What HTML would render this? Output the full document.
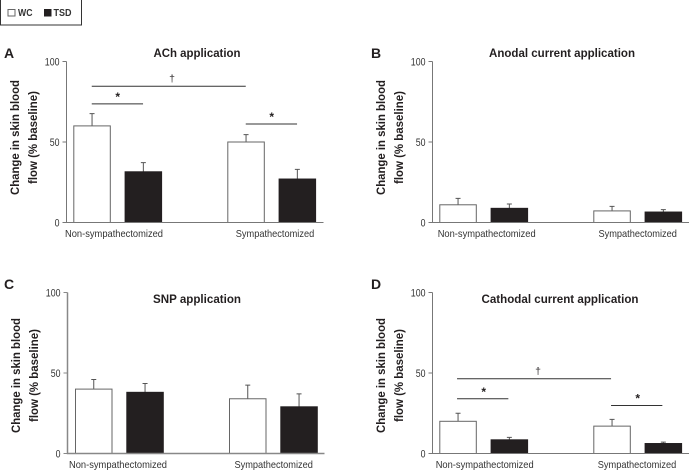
<!DOCTYPE html>
<html>
<head>
<meta charset="utf-8">
<title>Change in skin blood flow</title>
<style>
html,body{margin:0;padding:0;background:#fff;width:689px;height:470px;overflow:hidden}
svg{display:block;font-family:"Liberation Sans",sans-serif}
</style>
</head>
<body>
<svg id="chart" width="689" height="470" viewBox="0 0 689 470" xmlns="http://www.w3.org/2000/svg">
  <g>
    <rect x="0.5" y="-2" width="81" height="27" fill="#fff" stroke="#333" stroke-width="1"/>
    <rect x="8" y="9.5" width="7" height="6.5" fill="#fff" stroke="#666"/>
    <text x="18" y="16" font-size="10" font-weight="bold" fill="#333" textLength="14.5" lengthAdjust="spacingAndGlyphs">WC</text>
    <rect x="44" y="9" width="7.5" height="7.5" fill="#231f20"/>
    <text x="53.5" y="16" font-size="10" font-weight="bold" fill="#333" textLength="18" lengthAdjust="spacingAndGlyphs">TSD</text>
  </g>
</svg>
<script>
// Chart data
const categories = ['Non-sympathectomized', 'Sympathectomized'];
const seriesNames = ['WC', 'TSD'];
const yTicks = [0, 50, 100];
const yTitleLines = ['Change in skin blood', 'flow (% baseline)'];

const achValues = [60, 31.5, 50, 27];
const achErrors = [7.6, 5.7, 4.6, 6];
const snpValues = [40, 38, 34, 29];
const snpErrors = [6, 5.5, 8.5, 8];
const anodalValues = [11, 8.8, 7.2, 6.5];
const anodalErrors = [4, 2.7, 2.8, 1.5];
const cathodalValues = [20, 8.5, 17, 6.2];
const cathodalErrors = [5, 1.5, 4.2, 0.9];

const achSignificance = [
  {from: 0, to: 2, level: 84.6, mark: '†'},
  {from: 0, to: 1, level: 73.7, mark: '*'},
  {from: 2, to: 3, level: 61.2, mark: '*'}
];
const cathodalSignificance = [
  {from: 0, to: 2, level: 46.4, mark: '†'},
  {from: 0, to: 1, level: 34, mark: '*'},
  {from: 2, to: 3, level: 29.8, mark: '*'}
];

const svg = document.getElementById('chart');
const NS = 'http://www.w3.org/2000/svg';

function make(parent, tag, props, text) {
  const el = document.createElementNS(NS, tag);
  for (const k in props) el.setAttribute(k, props[k]);
  if (text !== undefined) el.textContent = text;
  parent.appendChild(el);
  return el;
}

function drawPanel(opt) {
  const g = make(svg, 'g', {});
  
  

  const axisX = opt.axisX;
  const y = v => opt.y0 - v * (opt.y0 - opt.y100) / 100;
  const barW = 36.5;
  const barX = i => axisX + opt.barOffset + Math.floor(i / 2) * 154 + (i % 2) * 51.3;
  const barC = i => barX(i) + barW / 2;

  const letter = make(g, 'text', {x: opt.letterX, y: opt.letterY, 'font-size': 14, 'font-weight': 'bold', fill: '#231f20'}, opt.letter);
  
  

  const title = make(g, 'text', {x: opt.titleX, y: opt.titleY, 'font-size': 12, 'font-weight': 'bold', fill: '#231f20', 'text-anchor': 'middle', textLength: opt.titleW, lengthAdjust: 'spacingAndGlyphs'}, opt.title);
  
  

  yTitleLines.forEach((line, i) => {
    const bx = axisX - 47.5 + i * 18;
    const t = make(g, 'text', {x: bx, y: opt.yTitleMid, 'font-size': 12, 'font-weight': 'bold', fill: '#231f20', 'text-anchor': 'middle', transform: 'rotate(-90 ' + bx + ' ' + opt.yTitleMid + ')', textLength: i === 0 ? 115 : 93, lengthAdjust: 'spacingAndGlyphs'}, line);
    
    
  });

  opt.values.forEach((v, i) => {
    const top = y(v + opt.errors[i]);
    const err = make(g, 'path', {d: 'M' + barC(i) + ' ' + y(v) + 'V' + top + 'M' + (barC(i) - 2.5) + ' ' + top + 'H' + (barC(i) + 2.5), stroke: '#555', 'stroke-width': 1, fill: 'none'});
    
    

    const isWhite = i % 2 === 0;
    const bar = make(g, 'rect', {x: barX(i), y: y(v), width: barW, height: opt.y0 - y(v), fill: isWhite ? '#fff' : '#231f20', stroke: isWhite ? '#666' : '#231f20', 'stroke-width': 1});
    
    
  });

  const axis = make(g, 'path', {d: 'M' + axisX + ' ' + opt.y100 + 'V' + opt.y0 + 'H' + (axisX + 257), stroke: opt.axisColor, 'stroke-width': opt.axisWidth, fill: 'none'});
  
  

  yTicks.forEach(v => {
    const tick = make(g, 'line', {x1: axisX - 4, x2: axisX, y1: y(v), y2: y(v), stroke: opt.axisColor, 'stroke-width': 1});
    
    

    const len = String(v).length * 4.9;
    const lab = make(g, 'text', {x: axisX - 7, y: y(v) + 4, 'font-size': 11, fill: '#333', 'text-anchor': 'end', textLength: len, lengthAdjust: 'spacingAndGlyphs'}, String(v));
    
    
  });

  categories.forEach((c, i) => {
    const lab = make(g, 'text', {x: (barX(i * 2) + barX(i * 2 + 1) + barW) / 2 + opt.catShift[i], y: opt.y0 + 14.5, 'font-size': 10.5, fill: '#333', 'text-anchor': 'middle', textLength: i === 0 ? 98 : 78.5, lengthAdjust: 'spacingAndGlyphs'}, c);
    
    
  });

  (opt.significance || []).forEach(s => {
    const line = make(g, 'line', {x1: barC(s.from) + opt.sigShift, x2: barC(s.to) + opt.sigShift, y1: y(s.level), y2: y(s.level), stroke: '#333', 'stroke-width': 1});
    
    

    const isStar = s.mark === '*';
    const mark = make(g, 'text', {x: (barC(s.from) + barC(s.to)) / 2 + (isStar ? 0 : 3), y: y(s.level) - (isStar ? 3 : 4.5), 'font-size': isStar ? 12 : 10.5, 'font-weight': isStar ? 'bold' : 'normal', fill: '#231f20', 'text-anchor': 'middle'}, s.mark);
    
    
  });
}

drawPanel({key: 'a', letter: 'A', title: 'ACh application', values: achValues, errors: achErrors, significance: achSignificance,
  axisX: 66.5, y0: 222.5, y100: 61.5, barOffset: 7.3, sigShift: -0.3, axisColor: '#777', axisWidth: 1, yTitleMid: 137.5,
  letterX: 4, letterY: 58, titleX: 197, titleY: 57, titleW: 87, catShift: [-3.7, 3.3]});
drawPanel({key: 'b', letter: 'B', title: 'Anodal current application', values: anodalValues, errors: anodalErrors,
  axisX: 432.5, y0: 222.5, y100: 61.5, barOffset: 7.3, sigShift: 0, axisColor: '#777', axisWidth: 1, yTitleMid: 137.5,
  letterX: 371, letterY: 58, titleX: 562, titleY: 57, titleW: 146, catShift: [3, 0]});
drawPanel({key: 'c', letter: 'C', title: 'SNP application', values: snpValues, errors: snpErrors,
  axisX: 67.5, y0: 453.5, y100: 292.5, barOffset: 8, sigShift: 0, axisColor: '#888', axisWidth: 1.5, yTitleMid: 375.5,
  letterX: 4, letterY: 289, titleX: 197, titleY: 303, titleW: 88, catShift: [-1.4, 0.3]});
drawPanel({key: 'd', letter: 'D', title: 'Cathodal current application', values: cathodalValues, errors: cathodalErrors, significance: cathodalSignificance,
  axisX: 432.5, y0: 453.5, y100: 292.5, barOffset: 7.3, sigShift: -1, axisColor: '#777', axisWidth: 1, yTitleMid: 375.5,
  letterX: 371, letterY: 289, titleX: 560, titleY: 303, titleW: 157, catShift: [1, -0.7]});
</script>
</body>
</html>
